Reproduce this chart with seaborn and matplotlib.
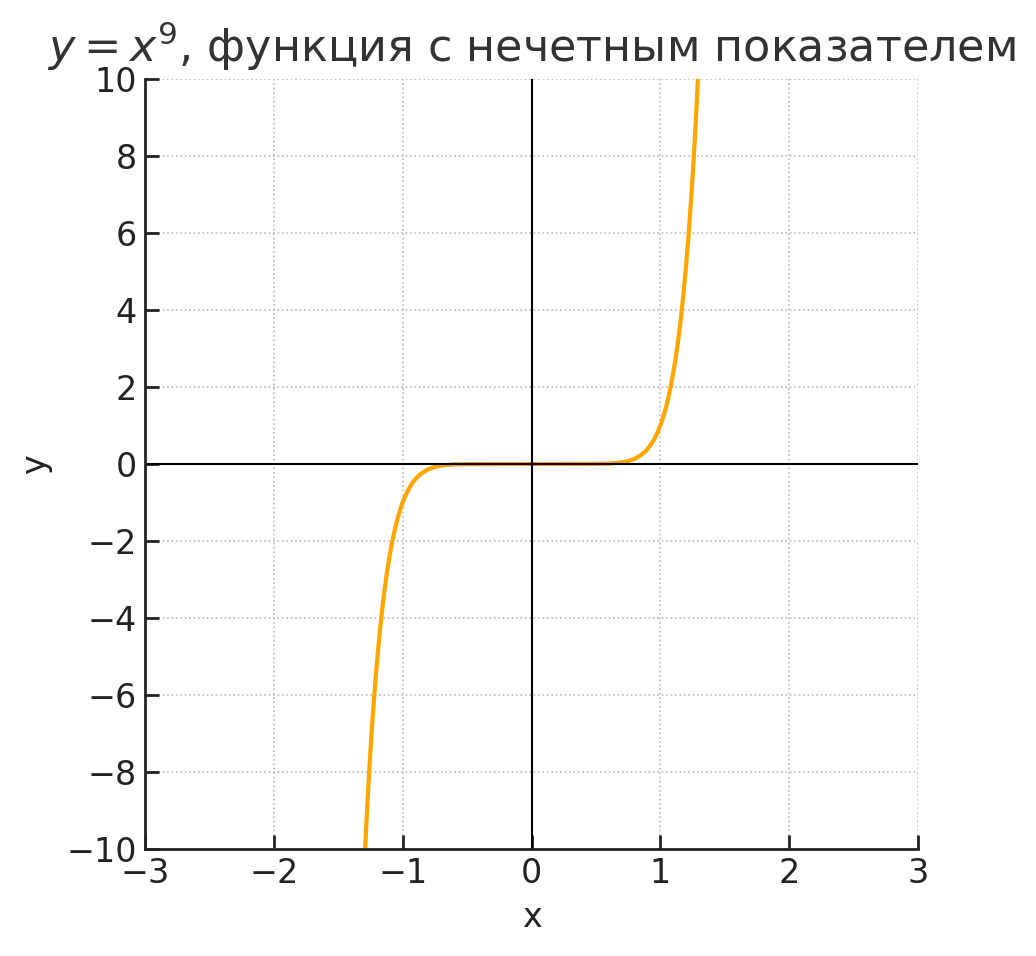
import numpy as np
import pandas as pd
import matplotlib
matplotlib.use("Agg")
import matplotlib.pyplot as plt
import seaborn as sns

# values (y = x^9)
x_pos = [0.0, 0.5, 0.6, 0.7, 0.75, 0.8, 0.85, 0.88, 0.9, 0.92, 0.94, 0.96, 0.98, 1.0,
         1.02, 1.04, 1.06, 1.08, 1.1, 1.12, 1.14, 1.16, 1.18, 1.2, 1.22, 1.24, 1.25,
         1.26, 1.27, 1.28, 1.29, 1.3]
y_pos = [0.0, 0.002, 0.010, 0.040, 0.075, 0.134, 0.232, 0.316, 0.387, 0.472, 0.573,
         0.693, 0.834, 1.0, 1.195, 1.42, 1.69, 2.00, 2.36, 2.77, 3.25, 3.80, 4.44,
         5.16, 5.99, 6.93, 7.45, 8.00, 8.59, 9.22, 9.89, 10.60]
x_neg = [-v for v in x_pos[:0:-1]]
y_neg = [-v for v in y_pos[:0:-1]]
x_vals = x_neg + x_pos
y_vals = y_neg + y_pos

x_ticks = [-3, -2, -1, 0, 1, 2, 3]
y_ticks = [-10, -8, -6, -4, -2, 0, 2, 4, 6, 8, 10]
title = r"$y = x^9$, функция с нечетным показателем"

sns.set_theme(style="white")
plt.rcParams['font.family'] = ['DejaVu Sans']
plt.rcParams['mathtext.fontset'] = 'dejavusans'

fig = plt.figure(figsize=(10.36, 9.56), dpi=100)
ax = fig.add_axes([145/1036, 1 - 849/956, (918-145)/1036, (849-79)/956])

df = pd.DataFrame({"x": x_vals, "y": y_vals})
sns.lineplot(data=df, x="x", y="y", ax=ax, color="orange", linewidth=3, sort=False)

ax.axhline(0, color="black", linewidth=1.5)
ax.axvline(0, color="black", linewidth=1.5)

ax.set_xlim(-3, 3)
ax.set_ylim(-10, 10)
ax.set_xticks(x_ticks)
ax.set_yticks(y_ticks)
ax.grid(True, linestyle=":", color="#bbbbbb", linewidth=1.2)
for s in ["top", "right"]:
    ax.spines[s].set_visible(False)
for s in ["left", "bottom"]:
    ax.spines[s].set_color("#222222")
    ax.spines[s].set_linewidth(2)
ax.tick_params(axis="both", direction="in", length=10, width=2, color="#222222",
               labelsize=24, labelcolor="#222222", pad=6, left=True, bottom=True)
ax.set_xlabel("x", fontsize=24, color="#222222", labelpad=8)
ax.set_ylabel("y", fontsize=24, color="#222222", labelpad=10)
ax.set_title(title, fontsize=32, color="#333333", pad=12)

fig.savefig("out.png", dpi=100)
